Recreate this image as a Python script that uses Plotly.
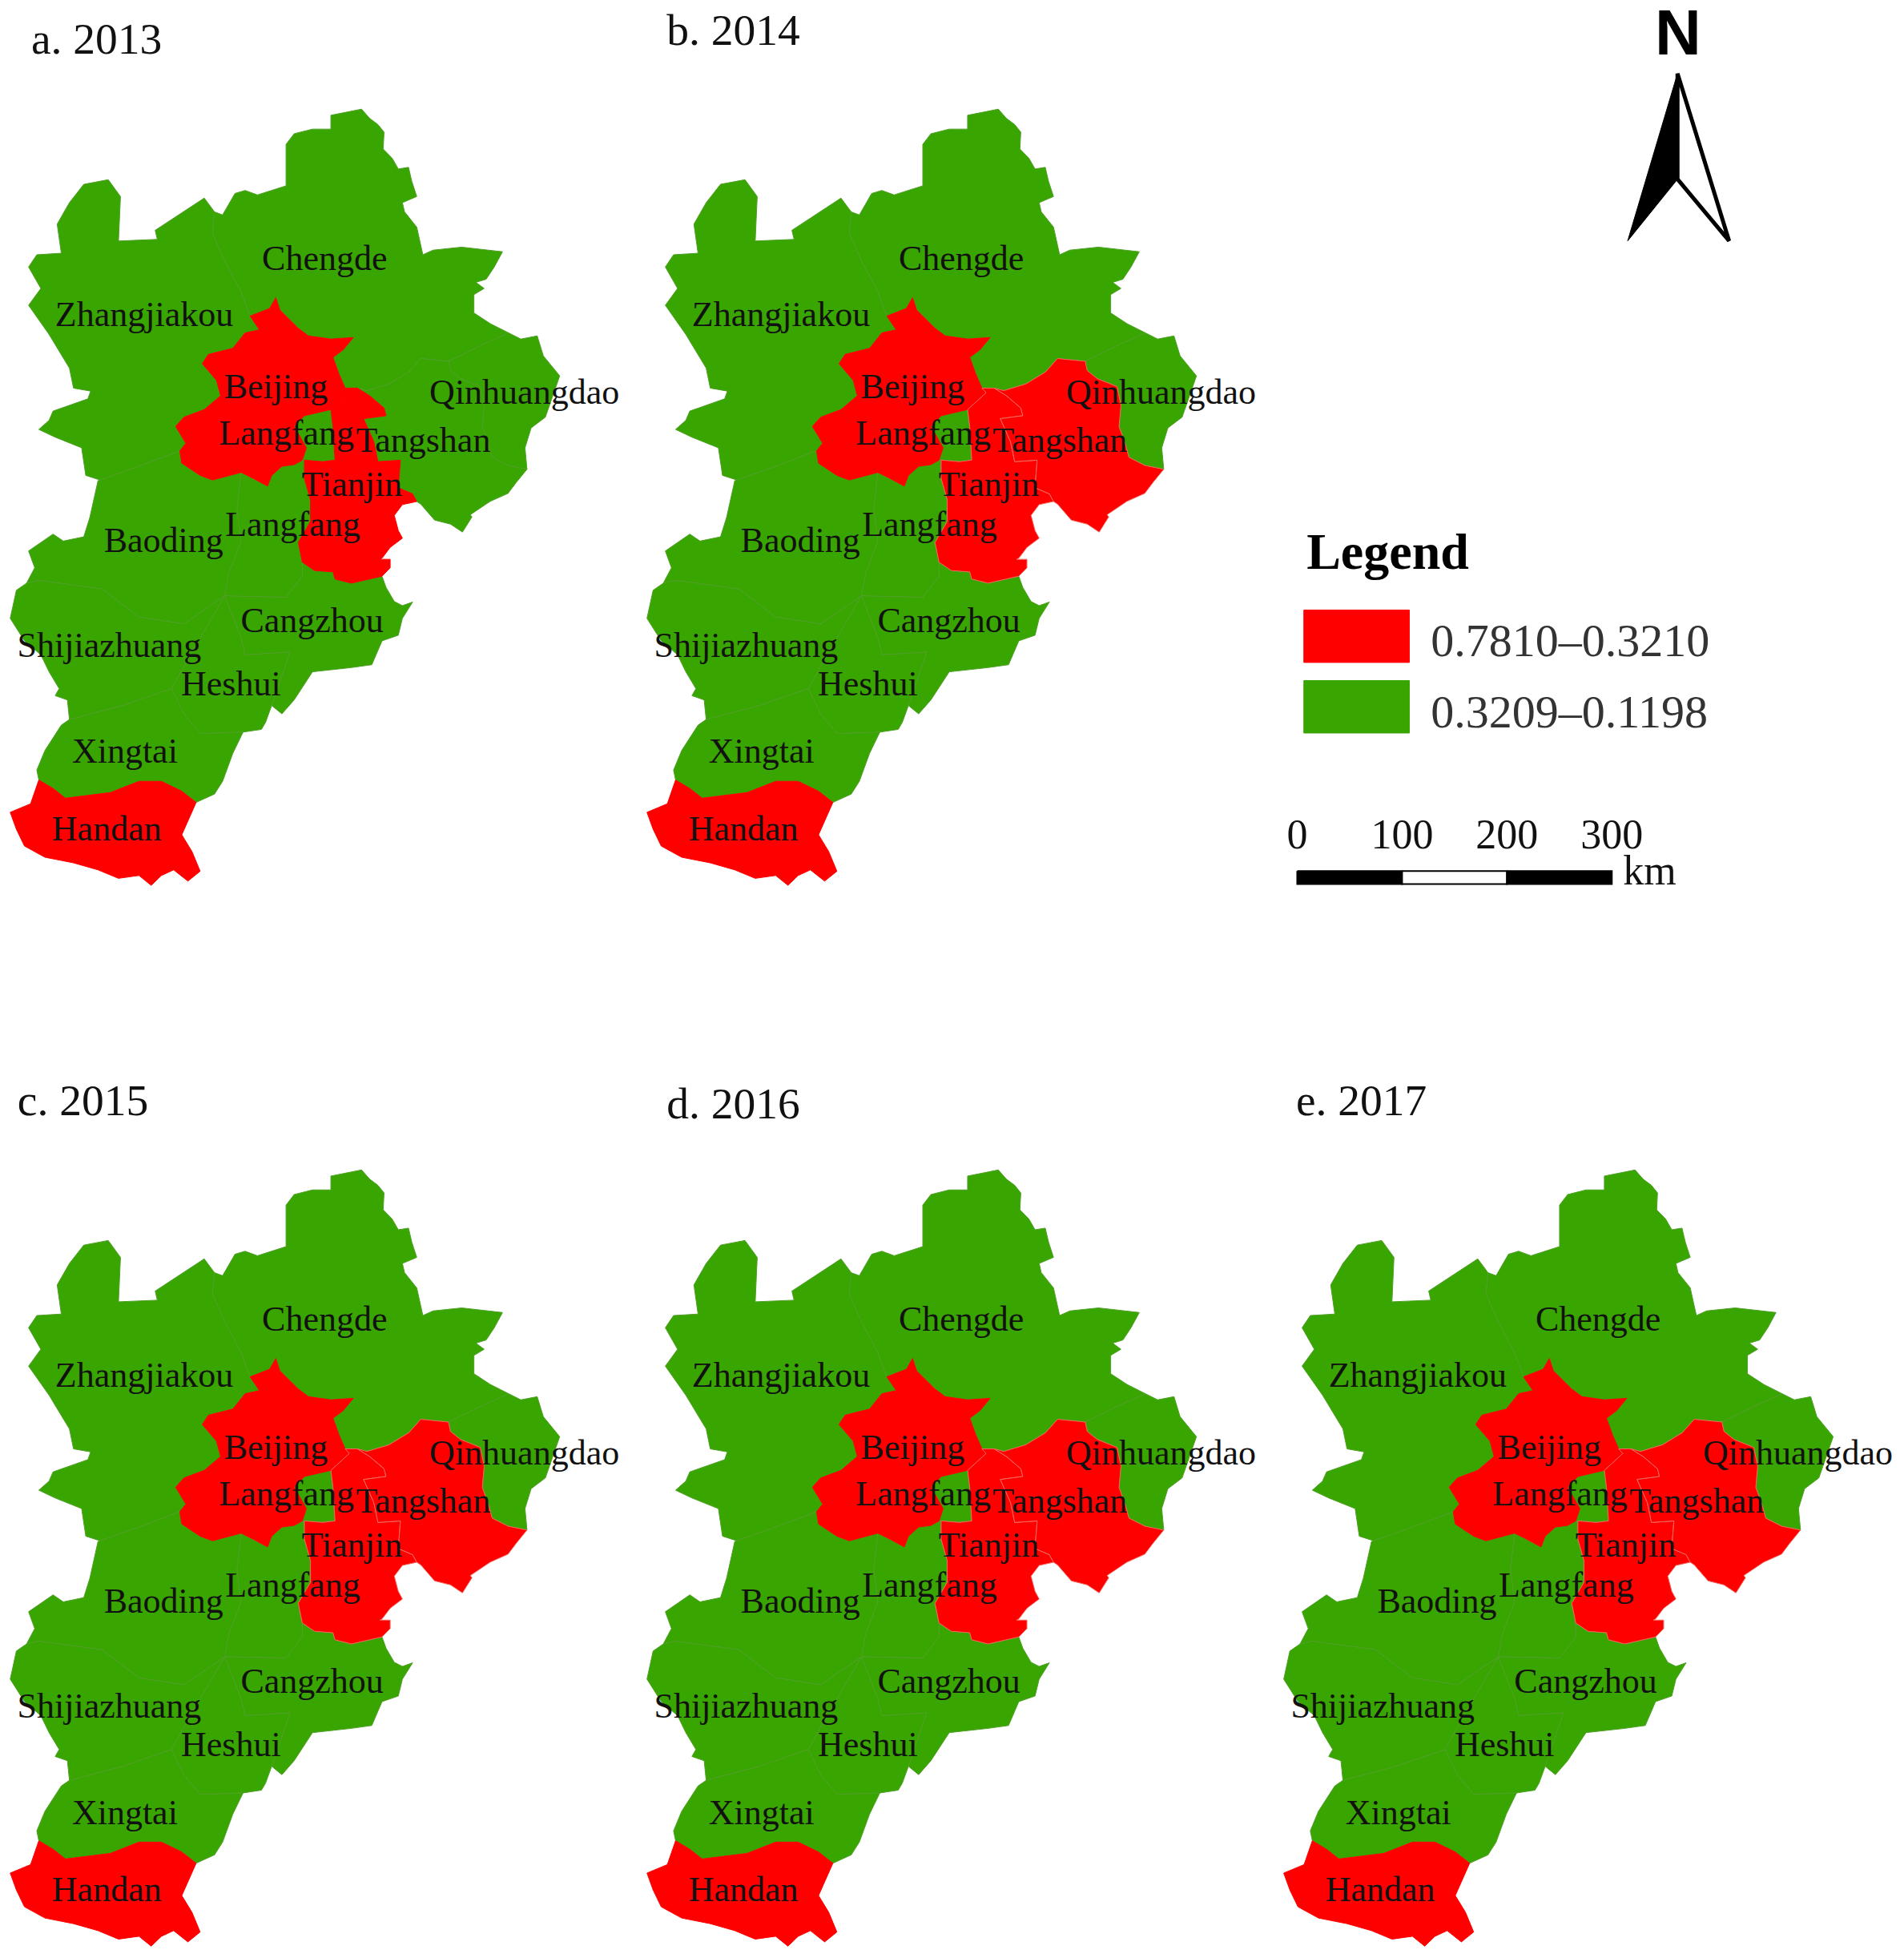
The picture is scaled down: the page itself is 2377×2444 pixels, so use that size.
import plotly.graph_objects as go

# Map outlines (same units for every panel, y grows downward)
zhangjiakou = [(171.8,169.7),(163.6,158.6),(124.3,184.4),(126,191.7),(94.9,193),(96.5,157.4),(86.7,143.9),(67.1,147.6),(55.6,162.3),(45.8,179.5),(49.1,202.8),(29.5,204),(22.9,213.8),(32.7,231),(22.9,244.5),(39.3,267.8),(55.6,294.8),(58.9,310.8),(72.6,313.2),(70.4,319.4),(42.5,329.2),(39.3,336.6),(31.1,343.9),(44.2,350.1),(65.4,358.6),(68.7,380.7),(80.2,384.4),(111.3,373.4),(144,361.1),(148.9,355),(140.7,341.5),(147.3,334.1),(163.6,328),(176.7,316.9),(173.4,304.6),(162,291.2),(166.9,283.8),(186.5,278.9),(196.3,266.6),(207.8,264.1),(200.3,253.1),(193.1,233.5),(180,208.9),(170.2,186.8)]
chengde = [(171.8,169.7),(178.3,172.1),(188.2,154.9),(196.3,152.5),(206.2,156.1),(229.1,148.8),(229.1,115.6),(235.6,107.1),(250.3,103.4),(265,103.4),(265,92.3),(278.1,89.9),(289.6,87.4),(296.1,94.8),(302.7,99.7),(307.6,105.8),(306.9,119.3),(314.1,126.7),(319,135.3),(327.2,134),(329.8,145.1),(333.8,157.4),(322.3,162.3),(324,169.6),(333.8,181.9),(338.7,204),(346.9,200.3),(369.8,197.9),(402.5,201.6),(395.9,213.8),(389.4,223.6),(381.2,226.1),(387.8,231),(379.6,235.9),(379.6,250.6),(392.7,259.2),(407.4,266.6),(387.8,275.4),(359.2,289.3),(337,287.1),(327.5,297.8),(311.6,307.5),(294,312.8),(286.3,310.8),(276.5,310.8),(271.6,299.7),(266.7,286.2),(274.9,280.1),(283,270.3),(265,271.5),(247.1,269),(238.9,262.9),(224.1,248.2),(220.9,238.4),(216,247),(200.3,253.1),(193.1,233.5),(180,208.9),(170.2,186.8)]
qinhuangdao = [(407.4,266.6),(417.2,271.5),(430.3,269),(435.2,285),(448.3,301),(441.8,319.4),(436.8,334.1),(425.4,342.7),(420.5,358.6),(422.1,375.8),(406.9,372.7),(394.2,366.2),(391,354.5),(386.3,341.7),(387.8,324.6),(384.7,309.6),(368.8,303.2),(360.8,296.8),(359.2,289.3),(387.8,275.4)]
tangshan = [(294,312.8),(311.6,307.5),(327.5,297.8),(337,287.1),(359.2,289.3),(360.8,296.8),(368.8,303.2),(384.7,309.6),(387.8,324.6),(386.3,341.7),(391,354.5),(394.2,366.2),(406.9,372.7),(422.1,375.8),(413.3,386.6),(406.9,395.1),(392.6,401.5),(376.7,412.2),(378,414),(370.4,426.1),(360.8,419.7),(348.1,416.5),(337,403.7),(333.8,401.6),(330.5,395.5),(319,390.6),(320.7,368.5),(302.7,369.7),(299.4,353.7),(291.2,335.3),(309.2,332.9),(307.6,326.7),(296.1,316.9),(286.3,310.8)]
beijing = [(220.9,238.4),(224.1,248.2),(238.9,262.9),(247.1,269),(265,271.5),(283,270.3),(274.9,280.1),(266.7,286.2),(271.6,299.7),(276.5,310.8),(279.8,314.5),(265,328),(243.8,332.9),(235.6,341.5),(245.4,358.6),(242.1,368.5),(235.6,372.1),(225.8,373.4),(217.6,380.7),(214.3,389.3),(202.9,383.2),(193.1,378.3),(170.2,384.4),(160.3,380.7),(145.6,370.9),(144,361.1),(148.9,355),(140.7,341.5),(147.3,334.1),(163.6,328),(176.7,316.9),(173.4,304.6),(162,291.2),(166.9,283.8),(186.5,278.9),(196.3,266.6),(207.8,264.1),(200.3,253.1),(216,247)]
tianjin = [(286.3,310.8),(296.1,316.9),(307.6,326.7),(309.2,332.9),(291.2,335.3),(299.4,353.7),(302.7,369.7),(320.7,368.5),(319,390.6),(330.5,395.5),(333.8,401.6),(322.3,404.1),(315.8,412.7),(319,424.9),(322.3,431),(312.5,438.4),(306,447),(304.3,447.9),(312.5,447.9),(312.5,454.7),(306,461.4),(281.4,467),(268.3,463.7),(266.7,458),(252,456.9),(242.1,450.2),(238.9,434.4),(248.7,417.6),(248.7,400.4),(243.8,383.2),(243.8,368.5),(258.5,369.7),(268.3,368.5),(266.7,341.5),(265,328),(279.8,314.5),(276.5,310.8)]
langfang_north = [(265,328),(266.7,341.5),(268.3,368.5),(258.5,369.7),(243.8,368.5),(242.1,368.5),(245.4,358.6),(235.6,341.5),(243.8,332.9)]
langfang_south = [(193.1,378.3),(202.9,383.2),(214.3,389.3),(217.6,380.7),(225.8,373.4),(235.6,372.1),(242.1,368.5),(243.8,368.5),(243.8,383.2),(248.7,400.4),(248.7,417.6),(238.9,434.4),(242.1,450.2),(242.1,461.4),(229.1,478.3),(180,477.2),(183.2,459.2),(193.1,433.3),(189.8,407.4)]
baoding = [(144,361.1),(145.6,370.9),(160.3,380.7),(170.2,384.4),(193.1,378.3),(189.8,407.4),(193.1,433.3),(183.2,459.2),(180,477.2),(147.3,499.7),(111.3,494.1),(81.8,471.6),(31.1,464.8),(21.3,467),(27.8,454.7),(22.9,441.2),(42.5,427.7),(50.7,433.3),(67.1,429.9),(72,414.2),(78.5,384.9),(80.2,384.4),(111.3,373.4)]
cangzhou = [(180,477.2),(229.1,478.3),(242.1,461.4),(242.1,450.2),(252,456.9),(266.7,458),(268.3,463.7),(281.4,467),(306,461.4),(309.2,470.4),(315.8,481.7),(322.3,485),(330.5,482.1),(322.3,495.2),(319,508.7),(306,513.2),(297.8,532.3),(281.4,534.6),(250.3,538),(235.6,560.5),(225.8,571.7),(217.6,565),(232.3,522.2),(196.3,524.4),(193.1,510.9)]
heshui = [(180,477.2),(193.1,510.9),(196.3,524.4),(232.3,522.2),(217.6,565),(212.7,578.5),(209.4,584.1),(194.7,586.3),(160.3,587.5),(147.3,571.7),(137.4,551.5),(155,520)]
shijiazhuang = [(21.3,467),(31.1,464.8),(81.8,471.6),(111.3,494.1),(147.3,499.7),(180,477.2),(155,520),(137.4,551.5),(98.2,565),(55.6,576.2),(54,560.5),(44.2,557.1),(47.4,551.5),(39.3,538),(32.7,524.4),(19.6,513.2),(8.2,495.2),(13.1,472.7)]
xingtai = [(55.6,576.2),(98.2,565),(137.4,551.5),(147.3,571.7),(160.3,587.5),(194.7,586.3),(186.5,603.2),(178.3,625.7),(171.8,635.9),(157.1,642.6),(145.6,633.6),(129.3,625.7),(111.3,625.7),(88.4,634.7),(52.4,639.2),(42.5,631.4),(31.1,624.6),(29.5,616.7),(36,601),(49.1,580.7)]
handan = [(31.1,624.6),(42.5,631.4),(52.4,639.2),(88.4,634.7),(111.3,625.7),(129.3,625.7),(145.6,633.6),(157.1,642.6),(145.6,668.5),(153.8,682),(160.3,697.7),(150.5,705.6),(139.1,696.6),(129.3,701.1),(121.1,709),(111.3,701.1),(94.9,703.4),(78.5,696.6),(58.9,691),(36,686.5),(19.6,677.5),(13.1,664),(8.2,650.5),(24.5,643.7)]

regions = {
    "Zhangjiakou": zhangjiakou, "Chengde": chengde, "Qinhuangdao": qinhuangdao,
    "Tangshan": tangshan, "Beijing": beijing, "Tianjin": tianjin,
    "Langfang north": langfang_north, "Langfang south": langfang_south,
    "Baoding": baoding, "Cangzhou": cangzhou, "Heshui": heshui,
    "Shijiazhuang": shijiazhuang, "Xingtai": xingtai, "Handan": handan,
}

# Panels and which cities are in the high class each year
panel_titles = ["a. 2013", "b. 2014", "c. 2015", "d. 2016", "e. 2017"]
title_x = [25, 24, 14, 24, 18]
title_y = [34, 27, 34.5, 37.5, 34.5]
high_class = [
    ["Beijing", "Tianjin", "Handan"],
    ["Beijing", "Tianjin", "Tangshan", "Handan"],
    ["Beijing", "Tianjin", "Tangshan", "Handan"],
    ["Beijing", "Tianjin", "Tangshan", "Handan"],
    ["Beijing", "Tianjin", "Tangshan", "Handan"],
]

label_names = ["Chengde", "Zhangjiakou", "Beijing", "Qinhuangdao", "Langfang", "Tangshan", "Tianjin",
               "Langfang", "Baoding", "Cangzhou", "Shijiazhuang", "Heshui", "Xingtai", "Handan"]
label_x = [260, 115.5, 221, 420, 229.5, 339, 282, 234.5, 131, 250, 87.5, 185, 100, 85.5]
label_y = [209, 254, 312, 316, 349, 355, 390, 422, 435, 499, 519, 550, 604, 666]

legend_labels = ["0.7810–0.3210", "0.3209–0.1198"]
scale_km = [0, 100, 200, 300]

north_left = [(1343.6, 58.8), (1303.7, 192.9), (1343.6, 143.5)]
north_right = [(1343.6, 58.8), (1384.9, 192.9), (1343.6, 143.5)]

RED = "#FF0000"
GREEN = "#38A500"
SERIF = "Liberation Serif"
W, H = 1525, 1568  # drawing units of the whole page

panel_left = [0, 510, 0, 510, 1020]
panel_top = [0, 0, 849.5, 849.5, 849.5]
PANEL_W, PANEL_H = 505, 718.5

fig = go.Figure()


def add_poly(points, fill, line, xa, ya, width=1.0):
    xs = [p[0] for p in points] + [points[0][0]]
    ys = [p[1] for p in points] + [points[0][1]]
    fig.add_trace(go.Scatter(x=xs, y=ys, mode="lines", fill="toself", fillcolor=fill,
                             line=dict(color=line, width=width), xaxis=xa, yaxis=ya,
                             hoverinfo="skip", showlegend=False))


def add_text(xs, ys, texts, size, xa, ya, color="#111111", pos="middle center", family=SERIF):
    fig.add_trace(go.Scatter(x=xs, y=ys, text=texts, mode="text", textposition=pos,
                             textfont=dict(family=family, size=size, color=color),
                             xaxis=xa, yaxis=ya, cliponaxis=False,
                             hoverinfo="skip", showlegend=False))


layout_axes = {}
for i in range(5):
    n = i + 1
    xa, ya = f"x{n}", f"y{n}"
    for name, pts in regions.items():
        if name not in high_class[i]:
            add_poly(pts, GREEN, "#4FA028", xa, ya)
    for name in high_class[i]:
        line = "#F26A60" if name in ("Tangshan", "Tianjin") and "Tangshan" in high_class[i] else RED
        add_poly(regions[name], RED, line, xa, ya)
    add_text(label_x, label_y, label_names, 44, xa, ya)
    add_text([title_x[i]], [title_y[i]], [panel_titles[i]], 55.5, xa, ya, pos="middle right")
    layout_axes[f"xaxis{n}"] = dict(domain=[panel_left[i] / W, (panel_left[i] + PANEL_W) / W],
                                    range=[0, PANEL_W], visible=False, anchor=ya, fixedrange=True)
    layout_axes[f"yaxis{n}"] = dict(domain=[1 - (panel_top[i] + PANEL_H) / H, 1 - panel_top[i] / H],
                                    range=[PANEL_H, 0], visible=False, anchor=xa, fixedrange=True)

# Full page axes for the north arrow, legend and scale bar
xa, ya = "x6", "y6"
layout_axes["xaxis6"] = dict(domain=[0, 1], range=[0, W], visible=False, anchor=ya, fixedrange=True)
layout_axes["yaxis6"] = dict(domain=[0, 1], range=[H, 0], visible=False, anchor=xa, fixedrange=True)

add_text([1344], [31], ["<b>N</b>"], 80, xa, ya, color="black", family="Liberation Sans")
add_poly(north_right, "white", "black", xa, ya, width=5)
add_poly(north_left, "black", "black", xa, ya, width=1)

add_text([1046.5], [445], ["<b>Legend</b>"], 64, xa, ya, color="black", pos="middle right")
swatch_top = [488.5, 545]
for top, colour in zip(swatch_top, [RED, GREEN]):
    add_poly([(1044.3, top), (1128.8, top), (1128.8, top + 42), (1044.3, top + 42)], colour, colour, xa, ya, width=1)
add_text([1146, 1146], [516, 573], legend_labels, 58, xa, ya, color="#333333", pos="middle right")

# scale bar, 100 km is 84 units on the page
km_x = [1039 + km * 0.84 for km in scale_km]
for k in range(3):
    colour = "white" if k == 1 else "black"
    add_poly([(km_x[k], 697.5), (km_x[k + 1], 697.5), (km_x[k + 1], 708), (km_x[k], 708)], colour, "black", xa, ya, width=2)
add_text(km_x, [671] * 4, [str(km) for km in scale_km], 52, xa, ya, color="#111111")
add_text([1300], [700], ["km"], 52, xa, ya, color="#111111", pos="middle right")

fig.update_layout(width=2377, height=2444, margin=dict(l=0, r=0, t=0, b=0),
                  paper_bgcolor="white", plot_bgcolor="rgba(0,0,0,0)", showlegend=False, **layout_axes)

fig.write_html("out.html", post_script="document.body.style.margin='0';",
               config={"displayModeBar": False})
